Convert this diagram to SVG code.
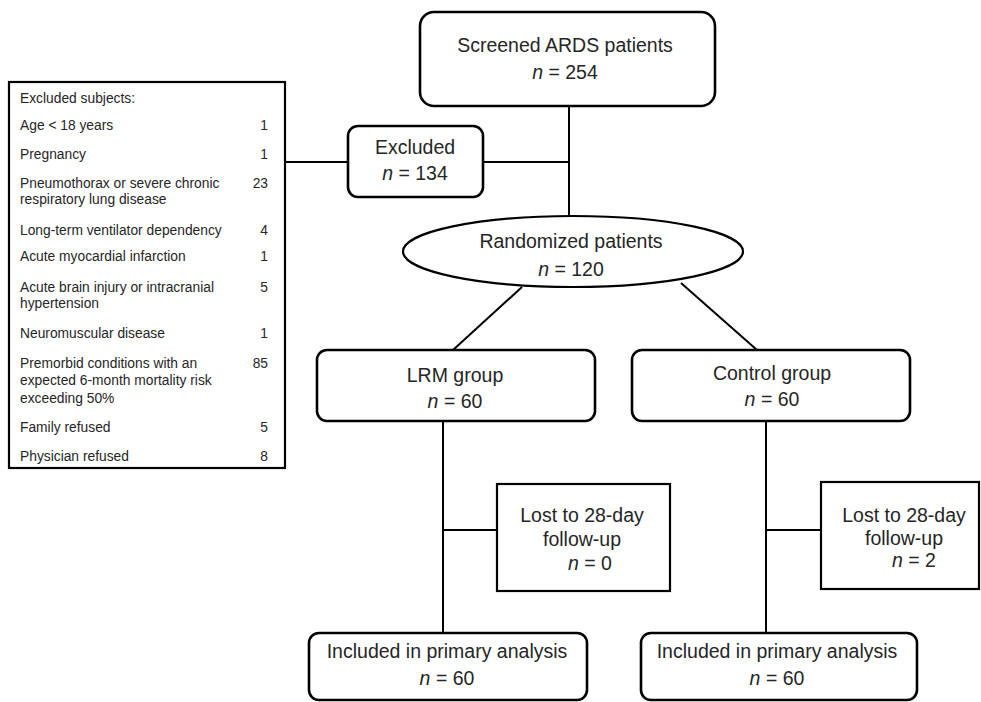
<svg xmlns="http://www.w3.org/2000/svg" width="981" height="702" viewBox="0 0 981 702">
<style>
  .bg { fill: #ffffff; }
  .rbox { fill: #ffffff; stroke: #000000; stroke-width: 2.6; }
  .sbox { fill: #ffffff; stroke: #000000; stroke-width: 2.2; }
  .conn line { stroke: #000000; stroke-width: 2; fill: none; }
  .t { font-family: "Liberation Sans", Arial, sans-serif; font-size: 19.5px; fill: #262626; text-anchor: middle; }
  .s { font-family: "Liberation Sans", Arial, sans-serif; font-size: 13.8px; fill: #262626; }
  .num { text-anchor: end; }
  .i { font-style: italic; }
</style>
<rect class="bg" x="0" y="0" width="981" height="702"/>

<g id="connectors" class="conn">
  <line x1="569" y1="106" x2="569" y2="216"/>
  <line x1="483" y1="162" x2="569" y2="162"/>
  <line x1="285" y1="162" x2="348" y2="162"/>
  <line x1="522" y1="287" x2="453" y2="350"/>
  <line x1="681" y1="283" x2="757" y2="350"/>
  <line x1="443" y1="421" x2="443" y2="633"/>
  <line x1="443" y1="530" x2="497" y2="530"/>
  <line x1="766" y1="421" x2="766" y2="633"/>
  <line x1="766" y1="530" x2="821" y2="530"/>
</g>

<g id="screened">
  <rect class="rbox" x="420" y="12" width="295" height="94" rx="14"/>
  <text class="t" x="565" y="52">Screened ARDS patients</text>
  <text class="t" x="565" y="79"><tspan class="i">n</tspan> = 254</text>
</g>

<g id="excluded">
  <rect class="rbox" x="348" y="126" width="135" height="71" rx="10"/>
  <text class="t" x="415" y="154">Excluded</text>
  <text class="t" x="415" y="180"><tspan class="i">n</tspan> = 134</text>
</g>

<g id="excluded-subjects">
  <rect class="sbox" x="9" y="82" width="276" height="386"/>
  <text class="s" x="20" y="103">Excluded subjects:</text>
  <text class="s" x="20" y="130">Age &lt; 18 years</text>
  <text class="s num" x="268" y="130">1</text>
  <text class="s" x="20" y="159">Pregnancy</text>
  <text class="s num" x="268" y="159">1</text>
  <text class="s" x="20" y="188">Pneumothorax or severe chronic</text>
  <text class="s" x="20" y="204">respiratory lung disease</text>
  <text class="s num" x="268" y="188">23</text>
  <text class="s" x="20" y="235">Long-term ventilator dependency</text>
  <text class="s num" x="268" y="235">4</text>
  <text class="s" x="20" y="261">Acute myocardial infarction</text>
  <text class="s num" x="268" y="261">1</text>
  <text class="s" x="20" y="292">Acute brain injury or intracranial</text>
  <text class="s" x="20" y="308">hypertension</text>
  <text class="s num" x="268" y="292">5</text>
  <text class="s" x="20" y="338">Neuromuscular disease</text>
  <text class="s num" x="268" y="338">1</text>
  <text class="s" x="20" y="368">Premorbid conditions with an</text>
  <text class="s" x="20" y="385">expected 6-month mortality risk</text>
  <text class="s" x="20" y="403">exceeding 50%</text>
  <text class="s num" x="268" y="368">85</text>
  <text class="s" x="20" y="432">Family refused</text>
  <text class="s num" x="268" y="432">5</text>
  <text class="s" x="20" y="461">Physician refused</text>
  <text class="s num" x="268" y="461">8</text>
</g>

<g id="randomized">
  <ellipse class="sbox" cx="573" cy="251.5" rx="170" ry="35.5"/>
  <text class="t" x="571" y="248">Randomized patients</text>
  <text class="t" x="571" y="276"><tspan class="i">n</tspan> = 120</text>
</g>

<g id="lrm-group">
  <rect class="rbox" x="317" y="350" width="278" height="71" rx="10"/>
  <text class="t" x="455" y="382">LRM group</text>
  <text class="t" x="455" y="408"><tspan class="i">n</tspan> = 60</text>
</g>

<g id="control-group">
  <rect class="rbox" x="632" y="350" width="278" height="71" rx="10"/>
  <text class="t" x="772" y="380">Control group</text>
  <text class="t" x="772" y="406"><tspan class="i">n</tspan> = 60</text>
</g>

<g id="lost-lrm">
  <rect class="sbox" x="497" y="484" width="173" height="107"/>
  <text class="t" x="582" y="522">Lost to 28-day</text>
  <text class="t" x="582" y="546">follow-up</text>
  <text class="t" x="590" y="570"><tspan class="i">n</tspan> = 0</text>
</g>

<g id="lost-control">
  <rect class="sbox" x="821" y="482" width="158" height="107"/>
  <text class="t" x="904" y="522">Lost to 28-day</text>
  <text class="t" x="904" y="545">follow-up</text>
  <text class="t" x="914" y="567"><tspan class="i">n</tspan> = 2</text>
</g>

<g id="included-lrm">
  <rect class="rbox" x="309" y="633" width="278" height="67" rx="10"/>
  <text class="t" x="447" y="658">Included in primary analysis</text>
  <text class="t" x="447" y="685"><tspan class="i">n</tspan> = 60</text>
</g>

<g id="included-control">
  <rect class="rbox" x="641" y="633" width="276" height="67" rx="10"/>
  <text class="t" x="777" y="658">Included in primary analysis</text>
  <text class="t" x="777" y="685"><tspan class="i">n</tspan> = 60</text>
</g>
</svg>
